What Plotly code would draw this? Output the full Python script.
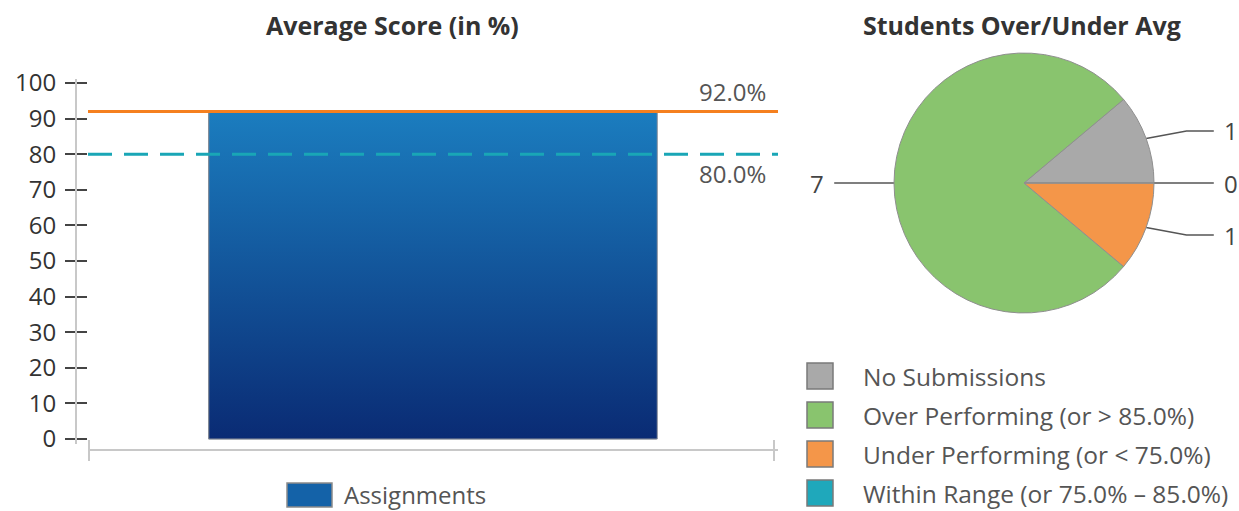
import numpy as np
import plotly.graph_objects as go

# ---- data ----
bar_categories = ["Assignments"]
bar_values = [92.0]
average_line = 92.0
target_line = 80.0
y_ticks = list(range(0, 101, 10))

pie_labels = [
    "No Submissions",
    "Over Performing (or > 85.0%)",
    "Under Performing (or < 75.0%)",
    "Within Range (or 75.0% – 85.0%)",
]
pie_counts = [1, 7, 1, 0]

# ---- styling ----
W, H = 1239, 511
FONT = "Open Sans"
pie_colors = ["#a9a9a9", "#89c46e", "#f49649", "#1fa8bb"]
bar_top, bar_bottom = "#1b7dbf", "#0a2b74"
orange = "#f5801f"
teal = "#19a6b6"


def px_x(x):
    return x / W


def px_y(y):
    return 1 - y / H


fig = go.Figure()

# ---- left panel: average score bar ----
Y0_PX, Y100_PX = 439, 83
unit = (Y0_PX - Y100_PX) / 100.0
y_range = [-1.5, 101]
y_dom = [px_y(Y0_PX - y_range[0] * unit), px_y(Y0_PX - y_range[1] * unit)]
bar_w = 0.65

fig.add_trace(go.Bar(
    x=[0], y=bar_values, width=bar_w, name=bar_categories[0],
    marker=dict(color="#1560a5", line=dict(color="#8a8f99", width=1)),
    showlegend=False, hoverinfo="skip",
))
# vertical gradient fill for the same bar
v = bar_values[0]
fig.add_trace(go.Scatter(
    x=[-bar_w / 2, bar_w / 2, bar_w / 2, -bar_w / 2, -bar_w / 2],
    y=[0, 0, v, v, 0],
    mode="lines", fill="toself",
    fillgradient=dict(type="vertical", colorscale=[[0, bar_bottom], [1, bar_top]]),
    line=dict(color="#8a8f99", width=1),
    showlegend=False, hoverinfo="skip",
))
fig.add_trace(go.Scatter(
    x=[-0.5, 0.5], y=[target_line, target_line], mode="lines",
    line=dict(color=teal, width=3, dash="24px,12px"),
    yaxis="y2", showlegend=False, hoverinfo="skip",
))
fig.add_trace(go.Scatter(
    x=[-0.5, 0.5], y=[average_line, average_line], mode="lines",
    line=dict(color=orange, width=3),
    showlegend=False, hoverinfo="skip",
))

# ---- right panel: pie ----
PIE_CX, PIE_CY, PIE_R = 1024, 183, 130
total = float(sum(pie_counts))
first_sweep = 360.0 * pie_counts[0] / total
start_phi = 0.0  # sweep begins at 3 o'clock, counterclockwise
rotation = 90.0 - start_phi - first_sweep

fig.add_trace(go.Pie(
    labels=pie_labels, values=pie_counts, sort=False,
    direction="counterclockwise", rotation=rotation,
    domain=dict(x=[px_x(PIE_CX - PIE_R), px_x(PIE_CX + PIE_R)],
                y=[px_y(PIE_CY + PIE_R), px_y(PIE_CY - PIE_R)]),
    marker=dict(colors=pie_colors, line=dict(color="#8f8f8f", width=1)),
    textinfo="none", hoverinfo="label+value", showlegend=False,
    automargin=False,
))

# leader lines and value labels, in pie-radius units
X3_PX = [790, 1239]
Y3_PX = [40, 330]
x3_range = [(X3_PX[0] - PIE_CX) / PIE_R, (X3_PX[1] - PIE_CX) / PIE_R]
y3_range = [(PIE_CY - Y3_PX[1]) / PIE_R, (PIE_CY - Y3_PX[0]) / PIE_R]

annotations = []
cum = start_phi
for lab, cnt in zip(pie_labels, pie_counts):
    sweep = 360.0 * cnt / total
    mid = np.radians(cum + sweep / 2)
    cum += sweep
    ex, ey = np.cos(mid), np.sin(mid)
    side = 1 if ex >= -1e-9 else -1
    ly = 1.17 * ey
    xs = [ex, side * 1.25, side * 1.46]
    ys = [ey, ly, ly]
    fig.add_trace(go.Scatter(
        x=xs, y=ys, mode="lines", xaxis="x3", yaxis="y3",
        line=dict(color="#555555", width=1.5),
        showlegend=False, hoverinfo="skip",
    ))
    annotations.append(dict(
        x=side * 1.46, y=ly, xref="x3", yref="y3",
        text=str(cnt), showarrow=False,
        xanchor="left" if side > 0 else "right", yanchor="middle",
        xshift=8 * side, font=dict(family=FONT, size=24, color="#444"),
    ))

# reference line labels
annotations.append(dict(
    x=0.5, y=average_line, xref="x", yref="y", text=f"{average_line:.1f}%",
    showarrow=False, xanchor="right", yanchor="bottom", xshift=-10, yshift=1,
    font=dict(family=FONT, size=24, color="#555"),
))
annotations.append(dict(
    x=0.5, y=target_line, xref="x", yref="y", text=f"{target_line:.1f}%",
    showarrow=False, xanchor="right", yanchor="top", xshift=-10, yshift=-1,
    font=dict(family=FONT, size=24, color="#555"),
))

# titles
annotations.append(dict(
    x=px_x(392), y=px_y(25), xref="paper", yref="paper",
    text="<b>Average Score (in %)</b>", showarrow=False,
    xanchor="center", yanchor="middle",
    font=dict(family=FONT, size=25, color="#333"),
))
annotations.append(dict(
    x=px_x(1022), y=px_y(25), xref="paper", yref="paper",
    text="<b>Students Over/Under Avg</b>", showarrow=False,
    xanchor="center", yanchor="middle",
    font=dict(family=FONT, size=25, color="#333"),
))

shapes = []
# x-axis end caps
for cx in (89, 774):
    shapes.append(dict(type="line", xref="paper", yref="paper",
                       x0=px_x(cx), x1=px_x(cx), y0=px_y(440), y1=px_y(461),
                       line=dict(color="#c8c8c8", width=2)))

# legend: bar series
shapes.append(dict(type="rect", xref="paper", yref="paper",
                   x0=px_x(287), x1=px_x(332), y0=px_y(507), y1=px_y(483),
                   fillcolor="#1462a8", line=dict(color="#8a8a8a", width=1.5)))
annotations.append(dict(
    x=px_x(343), y=px_y(494), xref="paper", yref="paper",
    text=bar_categories[0], showarrow=False, xanchor="left", yanchor="middle",
    borderpad=0, font=dict(family=FONT, size=24, color="#555"),
))

# legend: pie categories
for i, (lab, col) in enumerate(zip(pie_labels, pie_colors)):
    cy = 376 + 39 * i
    shapes.append(dict(type="rect", xref="paper", yref="paper",
                       x0=px_x(807), x1=px_x(833), y0=px_y(cy + 13), y1=px_y(cy - 13),
                       fillcolor=col, line=dict(color="#7a7a7a", width=1.5)))
    annotations.append(dict(
        x=px_x(862), y=px_y(cy), xref="paper", yref="paper",
        text=lab, showarrow=False, xanchor="left", yanchor="middle",
        borderpad=0, font=dict(family=FONT, size=24.5, color="#555"),
    ))

fig.update_layout(
    width=W, height=H, autosize=False,
    margin=dict(l=0, r=0, t=0, b=0, pad=0, autoexpand=False),
    paper_bgcolor="white", plot_bgcolor="rgba(0,0,0,0)",
    showlegend=False, bargap=0,
    xaxis=dict(domain=[px_x(88), px_x(778)], range=[-0.5, 0.5],
               anchor="free", position=px_y(450), automargin=False,
               showline=True, linecolor="#c8c8c8", linewidth=2,
               showticklabels=False, showgrid=False, zeroline=False, ticks=""),
    yaxis=dict(domain=y_dom, range=y_range, anchor="free", position=px_x(76),
               automargin=False,
               showline=True, linecolor="#c8c8c8", linewidth=2,
               tickvals=y_ticks, ticks="outside", ticklen=10, tickwidth=1.5,
               tickcolor="#444", ticklabelstandoff=4,
               tickfont=dict(family=FONT, size=24, color="#333"),
               showgrid=False, zeroline=False),
    yaxis2=dict(overlaying="y", range=y_range, anchor="free", position=px_x(76),
                automargin=False,
                showline=False, tickvals=y_ticks, ticks="inside", ticklen=10,
                tickwidth=1.5, tickcolor="#444", showticklabels=False,
                showgrid=False, zeroline=False),
    xaxis3=dict(domain=[px_x(X3_PX[0]), px_x(X3_PX[1])], range=x3_range,
                anchor="y3", visible=False, automargin=False),
    yaxis3=dict(domain=[px_y(Y3_PX[1]), px_y(Y3_PX[0])], range=y3_range,
                anchor="x3", visible=False, automargin=False),
    annotations=annotations, shapes=shapes,
)

fig.write_html("out.html")
